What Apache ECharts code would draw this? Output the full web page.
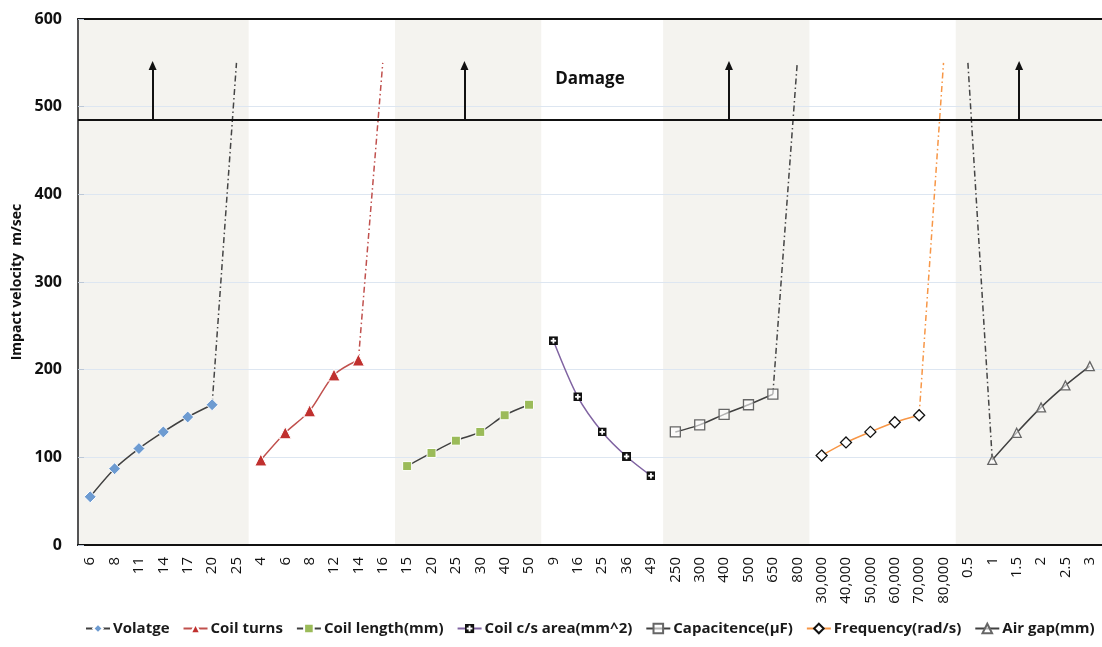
<!DOCTYPE html>
<html>
<head>
<meta charset="utf-8">
<title>Impact velocity</title>
<script src="https://cdn.jsdelivr.net/npm/echarts@6/dist/echarts.min.js"></script>
<style>
  html, body { margin: 0; padding: 0; background: #fff; }
  #chart { width: 1102px; height: 647px; }
</style>
</head>
<body>
<div id="chart"></div>
<script>
// x categories, one group per parameter
const categories = [
  '6', '8', '11', '14', '17', '20', '25',
  '4', '6', '8', '12', '14', '16',
  '15', '20', '25', '30', '40', '50',
  '9', '16', '25', '36', '49',
  '250', '300', '400', '500', '650', '800',
  '30,000', '40,000', '50,000', '60,000', '70,000', '80,000',
  '0.5', '1', '1.5', '2', '2.5', '3'
]

// measured impact velocity (m/sec) per group
const voltage = [55, 87, 110, 129, 146, 160]
const coilTurns = [97, 128, 153, 194, 211]
const coilLength = [90, 105, 119, 129, 148, 160]
const coilArea = [233, 169, 129, 101, 79]
const capacitance = [129, 137, 149, 160, 172]
const frequency = [102, 117, 129, 140, 148]
const airGap = [97, 128, 157, 182, 204]

// dash-dot extensions up to the damage zone
const voltageExt = [160, 550]
const coilTurnsExt = [211, 550]
const capacitanceExt = [172, 550]
const frequencyExt = [148, 550]
const airGapExt = [550, 97]

// damage annotation
const damageLevel = 485
const arrowTop = 547
const damageLabel = 'Damage'

// put a group of values at its place on the shared category axis
function place(values, start) {
  const out = categories.map(() => '-')
  values.forEach((v, i) => { out[start + i] = v })
  return out
}

const plusSquare = 'image://data:image/svg+xml;utf8,' + encodeURIComponent(
  '<svg xmlns="http://www.w3.org/2000/svg" width="10" height="10">' +
  '<rect x="0" y="0" width="10" height="10" fill="#111"/>' +
  '<rect x="4" y="2" width="2" height="6" fill="#fff"/>' +
  '<rect x="2" y="4" width="6" height="2" fill="#fff"/></svg>')

const dashDot = [6, 3, 1.5, 3]
const darkLine = '#404040'

function mainSeries(name, values, start, lineColor, symbol, size, item) {
  return {
    name,
    type: 'line',
    data: place(values, start),
    smooth: 0.3,
    symbol,
    symbolSize: size,
    lineStyle: { color: lineColor, width: 1.5 },
    itemStyle: item,
    z: 5
  }
}

function extSeries(name, values, start, color) {
  return {
    name,
    type: 'line',
    data: place(values, start),
    symbol: 'none',
    lineStyle: { color, width: 1.5, type: dashDot },
    z: 4
  }
}

// band edges, arrow positions measured in category widths (overlay axis 0..42)
const bands = [[0, 7], [13, 19], [24, 30], [36, 42]]
const arrowX = [3.06, 15.85, 26.7, 38.6]
const damageLabelPos = [21, 531]

const chart = echarts.init(document.getElementById('chart'))

const fontFamily = '"Open Sans", "Liberation Sans", sans-serif'

chart.setOption({
  animation: false,
  textStyle: { fontFamily },
  grid: { left: 78, right: 0, top: 19, bottom: 102 },
  legend: {
    bottom: 6,
    left: 80,
    itemGap: 13,
    itemWidth: 24,
    itemHeight: 12,
    data: ['Volatge', 'Coil turns', 'Coil length(mm)', 'Coil c/s area(mm^2)',
      'Capacitence(\u00b5F)', 'Frequency(rad/s)', 'Air gap(mm)'],
    textStyle: { fontSize: 15, fontWeight: 'bold', color: '#1a1a1a', padding: [0, 0, 0, -2] }
  },
  xAxis: [
    {
      type: 'category',
      data: categories,
      boundaryGap: true,
      z: 3,
      axisLine: { lineStyle: { color: '#111', width: 2 } },
      axisTick: { inside: true, alignWithLabel: true, length: 4, lineStyle: { color: '#333' } },
      axisLabel: {
        interval: 0,
        rotate: 90,
        margin: 12,
        fontSize: 15,
        color: '#111'
      },
      splitLine: { show: false }
    },
    {
      type: 'value',
      min: 0,
      max: 42,
      position: 'top',
      z: 3,
      axisLine: { show: true, onZero: false, lineStyle: { color: '#111', width: 2 } },
      axisTick: { show: false },
      axisLabel: { show: false },
      splitLine: { show: false }
    }
  ],
  yAxis: {
    type: 'value',
    min: 0,
    max: 600,
    interval: 100,
    z: 3,
    name: 'Impact velocity  m/sec',
    nameLocation: 'middle',
    nameGap: 54,
    nameTextStyle: { fontSize: 14, fontWeight: 'bold', color: '#111' },
    axisLine: { show: true, lineStyle: { color: '#555', width: 2 } },
    axisTick: { show: true, inside: true, length: 6, lineStyle: { color: '#bcc8d8' } },
    axisLabel: { fontSize: 16, fontWeight: 'bold', color: '#111', margin: 16 },
    splitLine: { lineStyle: { color: '#dde6f1', width: 1 } }
  },
  series: [
    {
      name: 'overlay',
      type: 'line',
      xAxisIndex: 1,
      data: [],
      silent: true,
      z: 1,
      markArea: {
        silent: true,
        itemStyle: { color: '#f4f3ef' },
        data: bands.map(b => [{ xAxis: b[0] }, { xAxis: b[1] }])
      }
    },
    {
      name: 'damage',
      type: 'line',
      xAxisIndex: 1,
      data: [],
      silent: true,
      z: 6,
      markLine: {
        silent: true,
        symbol: ['none', 'none'],
        label: { show: false },
        lineStyle: { color: '#111', width: 2, type: 'solid' },
        data: [
          [{ coord: [0, damageLevel] }, { coord: [42, damageLevel] }],
          ...arrowX.map(x => [
            { coord: [x, damageLevel], symbol: 'none' },
            { coord: [x, arrowTop], symbol: 'triangle', symbolSize: [8, 9], symbolRotate: 0 }
          ])
        ]
      },
      markPoint: {
        silent: true,
        symbol: 'rect',
        symbolSize: 0,
        label: {
          show: true,
          formatter: damageLabel,
          fontSize: 17,
          fontWeight: 'bold',
          color: '#111'
        },
        data: [{ coord: damageLabelPos }]
      }
    },
    mainSeries('Volatge', voltage, 0, darkLine, 'diamond', 12,
      { color: '#6d9bd1', borderColor: '#fff', borderWidth: 1 }),
    extSeries('Volatge ext', voltageExt, 5, '#444'),
    mainSeries('Coil turns', coilTurns, 7, '#c0504d', 'triangle', 12,
      { color: '#c0302e', borderColor: '#fff', borderWidth: 1 }),
    extSeries('Coil turns ext', coilTurnsExt, 11, '#c0504d'),
    mainSeries('Coil length(mm)', coilLength, 13, darkLine, 'rect', 9,
      { color: '#9bbb59', borderColor: '#fff', borderWidth: 1 }),
    mainSeries('Coil c/s area(mm^2)', coilArea, 19, '#8064a2', plusSquare, 9,
      { color: '#111' }),
    mainSeries('Capacitence(\u00b5F)', capacitance, 24, darkLine, 'rect', 10,
      { color: 'rgba(255,255,255,0.6)', borderColor: '#666', borderWidth: 1.3 }),
    extSeries('Capacitence ext', capacitanceExt, 28, '#444'),
    mainSeries('Frequency(rad/s)', frequency, 30, '#f79646', 'diamond', 11,
      { color: '#fff', borderColor: '#111', borderWidth: 1.3 }),
    extSeries('Frequency ext', frequencyExt, 34, '#f79646'),
    mainSeries('Air gap(mm)', airGap, 37, darkLine, 'triangle', 9,
      { color: 'rgba(255,255,255,0.6)', borderColor: '#666', borderWidth: 1.3 }),
    extSeries('Air gap ext', airGapExt, 36, '#444')
  ]
})

window.addEventListener('resize', () => chart.resize())
</script>
</body>
</html>
